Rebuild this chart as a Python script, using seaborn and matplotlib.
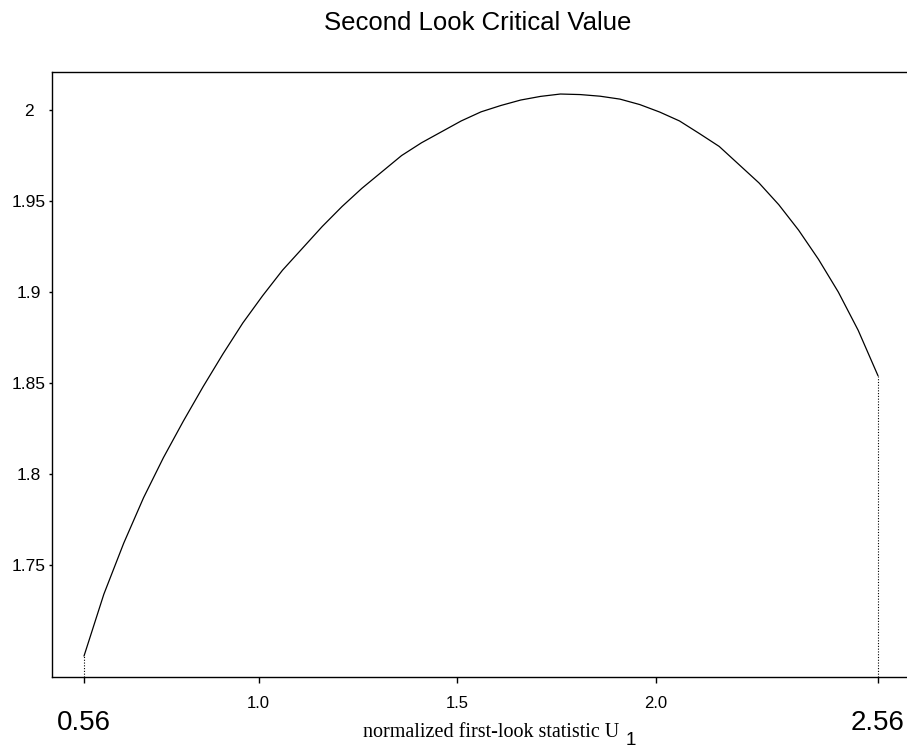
import numpy as np
import pandas as pd
import matplotlib
matplotlib.use("Agg")
import matplotlib.pyplot as plt
from matplotlib.ticker import NullLocator
import seaborn as sns

# ---- data ----
u1 = [0.56, 0.61, 0.66, 0.71, 0.76, 0.81, 0.86, 0.91, 0.96, 1.01,
      1.06, 1.11, 1.16, 1.21, 1.26, 1.31, 1.36, 1.41, 1.46, 1.51,
      1.56, 1.61, 1.66, 1.71, 1.76, 1.81, 1.86, 1.91, 1.96, 2.01,
      2.06, 2.11, 2.16, 2.21, 2.26, 2.31, 2.36, 2.41, 2.46, 2.51, 2.56]
crit = [1.700, 1.734, 1.762, 1.787, 1.809, 1.829, 1.848, 1.866, 1.883, 1.898,
        1.912, 1.924, 1.936, 1.947, 1.957, 1.966, 1.975, 1.982, 1.988, 1.994,
        1.999, 2.0025, 2.0055, 2.0075, 2.0088, 2.0085, 2.0076, 2.006, 2.003, 1.9989,
        1.994, 1.9871, 1.980, 1.970, 1.960, 1.948, 1.934, 1.918, 1.900, 1.879, 1.854]
major_ticks = [1.0, 1.5, 2.0]
major_labels = ["1.0", "1.5", "2.0"]
end_ticks = [0.56, 2.56]
end_labels = ["0.56", "2.56"]
y_ticks = [1.75, 1.80, 1.85, 1.90, 1.95, 2.00]
y_labels = ["1.75", "1.8", "1.85", "1.9", "1.95", "2"]
title = "Second Look Critical Value"
xlabel = "normalized first-look statistic U"
xlabel_sub = "1"

sns.set_style("white")
plt.rcParams["font.family"] = ["Liberation Sans", "DejaVu Sans"]
plt.rcParams["text.color"] = "black"

W, H = 907, 751
fig = plt.figure(figsize=(W / 100, H / 100), dpi=100)
ax = fig.add_axes([52 / W, 74 / H, 855 / W, 605 / H])

df = pd.DataFrame({"u1": u1, "crit": crit})
sns.lineplot(data=df, x="u1", y="crit", ax=ax, color="black", lw=0.9)

ymin, ymax = 1.6885, 2.0209
ax.set_xlim(0.4794, 2.633)
ax.set_ylim(ymin, ymax)

ax.vlines([u1[0], u1[-1]], ymin=ymin, ymax=[crit[0], crit[-1]],
          linestyles=(0, (1, 1.5)), colors="black", lw=0.8)

for side in ["left", "bottom", "top"]:
    ax.spines[side].set_color("black")
    ax.spines[side].set_linewidth(1.0)
ax.spines["right"].set_visible(False)

px = 72 / 100.0
ax.set_xticks(major_ticks)
ax.set_xticklabels(major_labels)
ax.set_xticks(end_ticks, minor=True)
ax.set_xticklabels(end_labels, minor=True)
ax.tick_params(axis="x", which="major", bottom=True, length=6 * px, width=1,
               pad=13 * px, labelsize=12, colors="black")
ax.tick_params(axis="x", which="minor", bottom=True, length=6 * px, width=1,
               pad=27 * px, labelsize=20, colors="black")

ax.set_yticks(y_ticks)
ax.set_yticklabels(y_labels)
ax.yaxis.set_minor_locator(NullLocator())
ax.tick_params(axis="y", which="major", left=True, length=3 * px, width=1,
               pad=20.5 * px, labelsize=12.5, colors="black")
for t in ax.get_yticklabels():
    t.set_horizontalalignment("center")

ax.set_xlabel("")
ax.set_ylabel("")

fig.text(478 / W, 1 - 30 / H, title, ha="center", va="baseline", fontsize=18.5,
         color="black")
fig.text(619 / W, 1 - 736.7 / H, xlabel, ha="right", va="baseline",
         family=["Liberation Serif", "DejaVu Serif"], fontsize=14.5, color="black")
fig.text(626 / W, 1 - 745 / H, xlabel_sub, ha="left", va="baseline", fontsize=13.5,
         color="black")

fig.savefig("out.png", dpi=100)
